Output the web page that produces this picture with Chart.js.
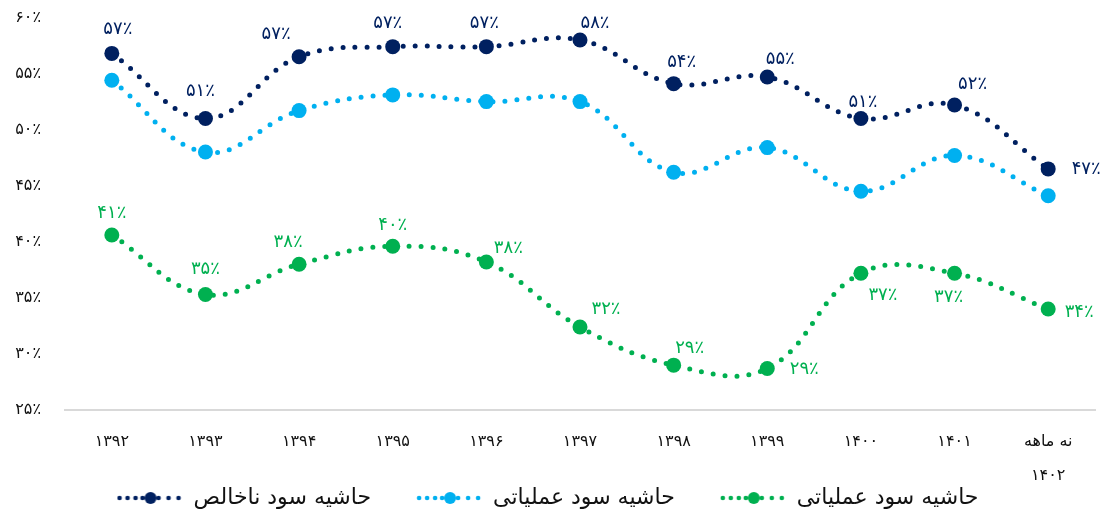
<!DOCTYPE html>
<html>
<head>
<meta charset="utf-8">
<script src="https://cdn.jsdelivr.net/npm/chart.js@4"></script>
<style>
html,body{margin:0;padding:0;background:#fff;}
#wrap{width:1104px;height:511px;}
</style>
</head>
<body>
<div id="wrap"><canvas id="c" width="1104" height="511"></canvas></div>
<script>
// ---- data ----
const categories = ['۱۳۹۲','۱۳۹۳','۱۳۹۴','۱۳۹۵','۱۳۹۶','۱۳۹۷','۱۳۹۸','۱۳۹۹','۱۴۰۰','۱۴۰۱',['نه ماهه','۱۴۰۲']];
const seriesNames = ['حاشیه سود ناخالص','حاشیه سود عملیاتی','حاشیه سود عملیاتی'];
const grossMargin = [56.8, 51.0, 56.5, 57.4, 57.4, 58.0, 54.1, 54.7, 51.0, 52.2, 46.5];
const operatingMarginA = [54.4, 48.0, 51.7, 53.1, 52.5, 52.5, 46.2, 48.4, 44.5, 47.7, 44.1];
const operatingMarginB = [40.6, 35.3, 38.0, 39.6, 38.2, 32.4, 29.0, 28.7, 37.2, 37.2, 34.0];
const yTickLabels = ['۲۵٪','۳۰٪','۳۵٪','۴۰٪','۴۵٪','۵۰٪','۵۵٪','۶۰٪'];

// ---- styles ----
const NAVY = '#002060', SKY = '#00B0F0', GREEN = '#00B050';
const FONT = "'DejaVu Sans', sans-serif";
const grossLabelOffsets = [[6,-24],[-5,-27],[-23,-22],[-5,-23],[-2,-23],[15,-17],[8,-21],[13,-18],[2,-16],[18,-21],[38,0]];
const greenLabelOffsets = [[0,-22],[0,-25],[-11,-22],[0,-21],[22,-14],[26,-18],[16,-17],[37,1],[22,22],[-6,24],[31,3]];

function toFa(n){ const d='۰۱۲۳۴۵۶۷۸۹'; return String(n).replace(/[0-9]/g, c => d[+c]); }

function legendIcon(color){
  const cv = document.createElement('canvas');
  cv.width = 66; cv.height = 14;
  const g = cv.getContext('2d');
  g.fillStyle = color;
  [3,11,19,26,42,52,62].forEach(x => { g.beginPath(); g.arc(x,7,2.3,0,Math.PI*2); g.fill(); });
  g.beginPath(); g.arc(34,7,6,0,Math.PI*2); g.fill();
  return cv;
}

const labelPlugin = {
  id: 'valueLabels',
  afterDatasetsDraw(chart){
    const ctx = chart.ctx;
    chart.data.datasets.forEach((ds, i) => {
      if (!ds.labelOffsets) return;
      const meta = chart.getDatasetMeta(i);
      ctx.save();
      ctx.font = '18px ' + FONT;
      ctx.fillStyle = ds.borderColor;
      ctx.textAlign = 'center';
      ctx.textBaseline = 'middle';
      meta.data.forEach((pt, j) => {
        const o = ds.labelOffsets[j];
        ctx.fillText(toFa(Math.round(ds.data[j])) + '٪', pt.x + o[0], pt.y + o[1]);
      });
      ctx.restore();
    });
  }
};

function lineDs(label, data, color, offsets){
  return {
    label, data,
    borderColor: color, backgroundColor: color,
    borderWidth: 5, borderDash: [0, 12], borderCapStyle: 'round',
    pointRadius: 7.5, pointHoverRadius: 7.5, pointBorderWidth: 0,
    pointBackgroundColor: color,
    tension: 0.4, fill: false,
    labelOffsets: offsets
  };
}

new Chart(document.getElementById('c'), {
  type: 'line',
  data: {
    labels: categories,
    datasets: [
      lineDs(seriesNames[0], grossMargin, NAVY, grossLabelOffsets),
      lineDs(seriesNames[1], operatingMarginA, SKY, null),
      lineDs(seriesNames[2], operatingMarginB, GREEN, greenLabelOffsets)
    ]
  },
  options: {
    responsive: false,
    animation: false,
    layout: { padding: { top: 17.5, right: 9, left: 0, bottom: -8 } },
    plugins: {
      tooltip: { enabled: false },
      legend: {
        position: 'bottom',
        labels: {
          usePointStyle: true,
          pointStyleWidth: 66,
          boxHeight: 14,
          padding: 1,
          color: '#111',
          font: { family: FONT, size: 22 },
          generateLabels(chart){
            const n = chart.data.datasets.length;
            return chart.data.datasets.map((ds, i) => ({
              text: ds.label + (i < n - 1 ? '\u2003\u2003' : ''),
              fillStyle: ds.borderColor,
              strokeStyle: ds.borderColor,
              lineWidth: 0,
              pointStyle: legendIcon(ds.borderColor),
              fontColor: '#111',
              hidden: false,
              datasetIndex: i
            }));
          }
        }
      }
    },
    scales: {
      x: {
        offset: true,
        grid: { display: false, drawTicks: false },
        border: { display: true, color: '#d9d9d9', width: 2 },
        ticks: { color: '#111', font: { family: FONT, size: 16, lineHeight: 2.1 }, padding: 15.5, maxRotation: 0, autoSkip: false },
        afterFit(scale){ scale.height = 76; }
      },
      y: {
        min: 25, max: 60,
        grid: { display: false, drawTicks: false },
        border: { display: false },
        ticks: {
          stepSize: 5, padding: 24, color: '#111',
          font: { family: FONT, size: 16 },
          callback: (v, i) => yTickLabels[i]
        },
        afterFit(scale){ scale.width = 65; scale.paddingTop = 9; scale.paddingBottom = 9; }
      }
    }
  },
  plugins: [labelPlugin]
});
</script>
</body>
</html>
